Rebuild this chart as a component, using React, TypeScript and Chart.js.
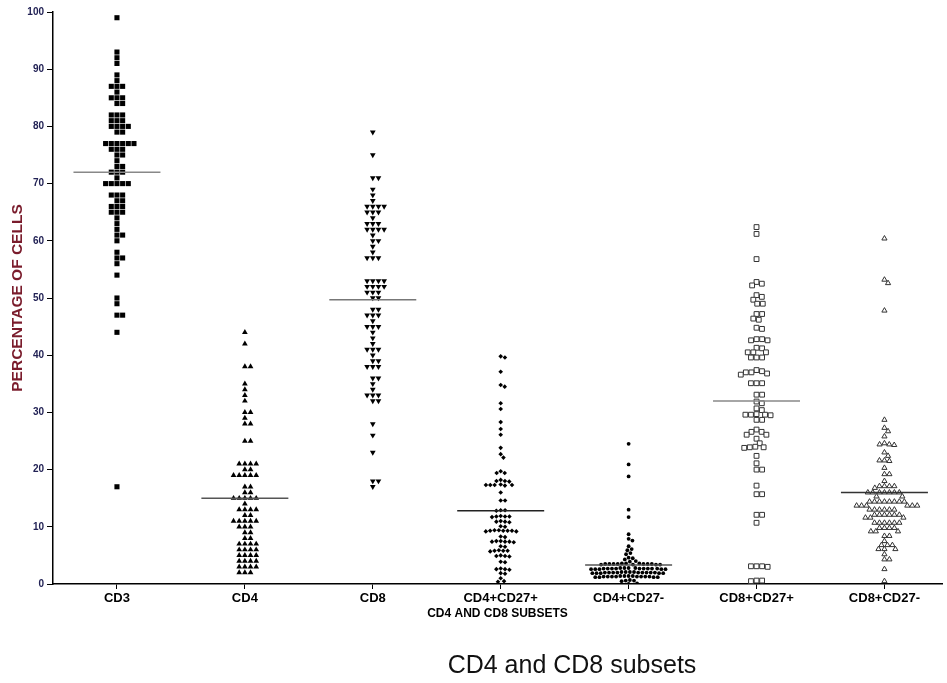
import React, { useEffect, useRef } from 'react';
import { Chart, registerables } from 'chart.js';

Chart.register(...registerables);

const FONT = "'Liberation Sans', Arial, sans-serif";

const categories = ['CD3', 'CD4', 'CD8', 'CD4+CD27+', 'CD4+CD27-', 'CD8+CD27+', 'CD8+CD27-'];

const cd3 = [99, 93, 92, 91, 89, 88, 87, 87, 87, 86, 85, 85, 85, 84, 84, 82, 82, 82, 81, 81, 81, 80, 80, 80, 80, 79, 79,
  77, 77, 77, 77, 77, 77, 76, 76, 76, 75, 75, 74, 73, 73, 72, 72, 72, 71, 70, 70, 70, 70, 70, 68, 68, 68, 67, 67,
  66, 66, 66, 65, 65, 65, 64, 63, 62, 61, 61, 60, 58, 57, 57, 56, 54, 50, 49, 47, 47, 44, 17];

const cd4 = [44, 42, 38, 38, 35, 34, 33, 32, 30, 30, 29, 28, 28, 25, 25, 21, 21, 21, 21, 20, 20, 19, 19, 19, 19, 19,
  17, 17, 16, 16, 15, 15, 15, 15, 15, 14, 13, 13, 13, 13, 12, 12, 11, 11, 11, 11, 11, 10, 10, 10, 9, 9, 8, 8,
  7, 7, 7, 7, 6, 6, 6, 6, 5, 5, 5, 5, 4, 4, 4, 4, 3, 3, 3, 3, 2, 2, 2];

const cd8 = [79, 75, 71, 71, 69, 68, 67, 66, 66, 66, 66, 65, 65, 65, 64, 63, 63, 63, 62, 62, 62, 62, 61, 60, 60, 59, 58,
  57, 57, 57, 53, 53, 53, 53, 52, 52, 52, 52, 51, 51, 51, 50, 50, 48, 48, 47, 47, 47, 46, 45, 45, 45, 44, 43, 42,
  41, 41, 41, 40, 39, 39, 38, 38, 38, 36, 36, 35, 34, 33, 33, 33, 32, 32, 28, 26, 23, 18, 18, 17];

const cd4cd27pos = [39.8, 39.6, 37.1, 34.8, 34.5, 31.6, 30.6, 28.3, 27.1, 26.1, 23.8, 22.7, 22.1, 19.7, 19.4, 19.4,
  18.2, 18.0, 18.0, 17.9, 17.3, 17.3, 17.2, 17.4, 17.3, 17.3, 16.0, 14.6, 14.6, 12.9, 12.8, 12.9, 11.8, 11.9, 11.7,
  11.8, 11.8, 10.9, 10.8, 11.0, 10.9, 10.0, 10.1, 9.3, 9.2, 9.4, 9.3, 9.3, 9.2, 9.4, 9.3, 8.3, 8.2, 7.4, 7.5, 7.3,
  7.4, 7.4, 7.5, 6.6, 6.5, 5.8, 5.9, 5.7, 5.8, 5.8, 4.9, 4.8, 5.0, 4.9, 3.9, 3.8, 2.6, 2.7, 2.5, 2.6, 1.9, 1.8,
  1.0, 0.5, 0.4];

const cd4cd27neg = [24.5, 20.9, 18.8, 13.0, 11.7, 8.7, 7.9, 7.6, 6.6, 6.1, 5.9, 5.4, 5.2, 4.6, 4.5, 4.3, 4.0, 3.9,
  3.6, 3.5, 3.5, 3.4, 3.6, 3.5, 3.4, 3.5, 3.6, 3.5, 3.4, 3.5, 3.5, 3.4,
  2.8, 2.7, 2.7, 2.6, 2.8, 2.7, 2.6, 2.7, 2.8, 2.7, 2.6, 2.7, 2.7, 2.8, 2.6, 2.7, 2.7, 2.6,
  2.1, 2.0, 2.0, 1.9, 2.1, 2.0, 1.9, 2.0, 2.1, 2.0, 1.9, 2.0, 2.0, 2.1, 1.9, 2.0, 2.0, 1.9,
  1.4, 1.3, 1.3, 1.2, 1.4, 1.3, 1.2, 1.3, 1.4, 1.3, 1.2, 1.3, 1.3, 1.4, 1.2, 1.3,
  0.7, 0.6, 0.6, 0.5, 0.1, 0.0];

const cd8cd27pos = [62.4, 61.2, 56.8, 52.8, 52.5, 52.2, 50.5, 50.2, 49.7, 49.0, 49.0, 47.2, 47.2, 46.4, 46.2, 44.8,
  44.6, 42.8, 42.8, 42.6, 42.6, 41.3, 41.2, 40.5, 40.5, 40.5, 39.6, 39.6, 39.6, 37.4, 37.2, 37.0, 37.0, 36.8, 36.6,
  35.1, 35.1, 35.1, 33.1, 33.1, 31.9, 31.6, 30.7, 30.4, 29.6, 29.6, 29.5, 29.7, 29.6, 28.7, 28.7, 27.0, 26.6, 26.6,
  26.1, 26.1, 25.4, 24.6, 23.9, 23.9, 23.8, 24.0, 22.4, 21.1, 20.0, 20.0, 17.2, 15.7, 15.7, 12.1, 12.1, 10.7,
  3.1, 3.1, 3.0, 3.1, 0.6, 0.6, 0.5];

const cd8cd27neg = [60.4, 53.2, 52.6, 47.8, 28.7, 27.3, 26.7, 25.8, 24.6, 24.4, 24.4, 24.3, 23.0, 22.4, 21.6, 21.6,
  21.5, 20.3, 19.2, 19.2, 18.0, 17.1, 17.1, 17.1, 17.1, 16.8, 16.0, 16.0, 16.0, 16.0, 16.0, 16.0, 16.0, 15.3, 15.3,
  14.4, 14.4, 14.4, 14.4, 14.4, 14.4, 14.4, 14.4, 13.7, 13.7, 13.7, 13.7, 13.7, 13.7, 13.0, 13.0, 13.0, 13.0, 13.0,
  13.0, 12.1, 12.1, 12.1, 12.1, 12.1, 12.1, 11.6, 11.6, 11.6, 10.7, 10.7, 10.7, 10.7, 10.7, 10.7, 9.8, 9.8, 9.8,
  9.8, 9.2, 9.2, 9.2, 8.4, 8.4, 7.5, 6.8, 6.8, 6.8, 6.1, 6.1, 6.1, 5.2, 4.3, 4.3, 2.6, 0.5];

const seriesValues = [cd3, cd4, cd8, cd4cd27pos, cd4cd27neg, cd8cd27pos, cd8cd27neg];
const meanValues = [72, 15, 49.7, 12.8, 3.3, 32, 16];

const PX_PER_Y = 5.72;
const PX_PER_X = 128.6;

function swarmOffsets(values: number[], diam: number): number[] {
  const placed: { x: number; y: number }[] = [];
  const out: number[] = new Array(values.length).fill(0);
  const order = values.map((_, i) => i).sort((a, b) => values[b] - values[a]);
  for (const i of order) {
    const y = values[i] * PX_PER_Y;
    const near = placed.filter((p) => Math.abs(p.y - y) < diam - 1e-9);
    const cands = [0];
    for (const p of near) {
      const dx = Math.sqrt(diam * diam - (p.y - y) * (p.y - y));
      cands.push(p.x + dx, p.x - dx);
    }
    cands.sort((a, b) => Math.abs(a) - Math.abs(b) || b - a);
    const x = cands.find((c) => near.every((p) => (p.x - c) ** 2 + (p.y - y) ** 2 >= diam * diam - 1e-6)) ?? 0;
    out[i] = x / PX_PER_X;
    placed.push({ x, y });
  }
  return out;
}

const markerStyles = [
  { pointStyle: 'rect', radius: 3.6, rotation: 0, bg: '#000', border: '#000', bw: 0, diam: 5.7 },
  { pointStyle: 'triangle', radius: 3.3, rotation: 0, bg: '#000', border: '#000', bw: 0, diam: 5.7 },
  { pointStyle: 'triangle', radius: 3.3, rotation: 180, bg: '#000', border: '#000', bw: 0, diam: 5.7 },
  { pointStyle: 'rectRot', radius: 2.3, rotation: 0, bg: '#000', border: '#000', bw: 0, diam: 4.4 },
  { pointStyle: 'circle', radius: 1.9, rotation: 0, bg: '#000', border: '#000', bw: 0, diam: 4.2 },
  { pointStyle: 'rect', radius: 3.4, rotation: 0, bg: '#fff', border: '#333', bw: 1, diam: 5.6 },
  { pointStyle: 'triangle', radius: 3.0, rotation: 0, bg: '#fff', border: '#333', bw: 1, diam: 5.0 },
];
const meanColors = ['#888', '#555', '#777', '#222', '#555', '#888', '#333'];

export default function App() {
  const ref = useRef<HTMLCanvasElement | null>(null);

  useEffect(() => {
    if (!ref.current) return;
    const datasets: any[] = [];
    seriesValues.forEach((vals, ci) => {
      const st = markerStyles[ci];
      const offs = swarmOffsets(vals, st.diam);
      datasets.push({
        type: 'scatter',
        label: categories[ci],
        data: vals.map((v, k) => ({ x: ci + offs[k], y: v })),
        pointStyle: st.pointStyle,
        pointRadius: st.radius,
        pointRotation: st.rotation,
        backgroundColor: st.bg,
        borderColor: st.border,
        borderWidth: st.bw,
        order: 2,
      });
    });
    meanValues.forEach((m, ci) => {
      datasets.push({
        type: 'line',
        label: categories[ci] + ' mean',
        data: [{ x: ci - 0.34, y: m }, { x: ci + 0.34, y: m }],
        borderColor: meanColors[ci],
        borderWidth: 1.5,
        pointRadius: 0,
        fill: false,
        order: 1,
      });
    });

    const chart = new Chart(ref.current, {
      type: 'scatter',
      data: { datasets },
      options: {
        animation: false,
        responsive: false,
        devicePixelRatio: 1,
        layout: { padding: { top: 12, left: 0, right: 0, bottom: 0 } },
        plugins: { legend: { display: false }, tooltip: { enabled: false }, title: { display: false } },
        scales: {
          x: {
            type: 'linear',
            min: -0.5,
            max: 6.45,
            afterBuildTicks: (s: any) => {
              s.ticks = categories.map((_, i) => ({ value: i }));
            },
            afterFit: (s: any) => {
              s.height = 99;
            },
            ticks: {
              autoSkip: false,
              maxRotation: 0,
              padding: 2,
              color: '#000',
              font: { family: FONT, size: 13, weight: 'bold' },
              callback: (v: any) => categories[Math.round(Number(v))] ?? '',
            },
            grid: { display: true, drawOnChartArea: false, drawTicks: true, tickLength: 5, color: '#000', lineWidth: 1 },
            border: { display: true, color: '#000', width: 1.5 },
            title: {
              display: true,
              text: 'CD4 AND CD8 SUBSETS',
              color: '#000',
              font: { family: FONT, size: 12, weight: 'bold' },
              padding: { top: 0, bottom: 62 },
            },
          },
          y: {
            type: 'linear',
            min: 0,
            max: 100,
            afterFit: (s: any) => {
              s.width = 53;
            },
            ticks: {
              stepSize: 10,
              padding: 3,
              color: '#222255',
              font: { family: FONT, size: 10, weight: 'bold' },
            },
            grid: { display: true, drawOnChartArea: false, drawTicks: true, tickLength: 6, color: '#000', lineWidth: 1 },
            border: { display: true, color: '#000', width: 1.5 },
            title: {
              display: true,
              text: 'PERCENTAGE OF CELLS',
              color: '#7a1c2c',
              font: { family: FONT, size: 15.5, weight: 'bold' },
              padding: { top: 8, bottom: 0 },
            },
          },
        },
      } as any,
    });
    return () => chart.destroy();
  }, []);

  return (
    <div style={{ position: 'absolute', left: 0, top: 0, width: 947, height: 683, background: '#fff', overflow: 'hidden' }}>
      <canvas ref={ref} width={947} height={683} style={{ display: 'block', width: 947, height: 683 }} />
      <div
        style={{
          position: 'absolute',
          left: 372,
          width: 400,
          top: 649,
          textAlign: 'center',
          fontFamily: FONT,
          fontSize: 25,
          color: '#111',
          lineHeight: '30px',
        }}
      >
        CD4 and CD8 subsets
      </div>
    </div>
  );
}
